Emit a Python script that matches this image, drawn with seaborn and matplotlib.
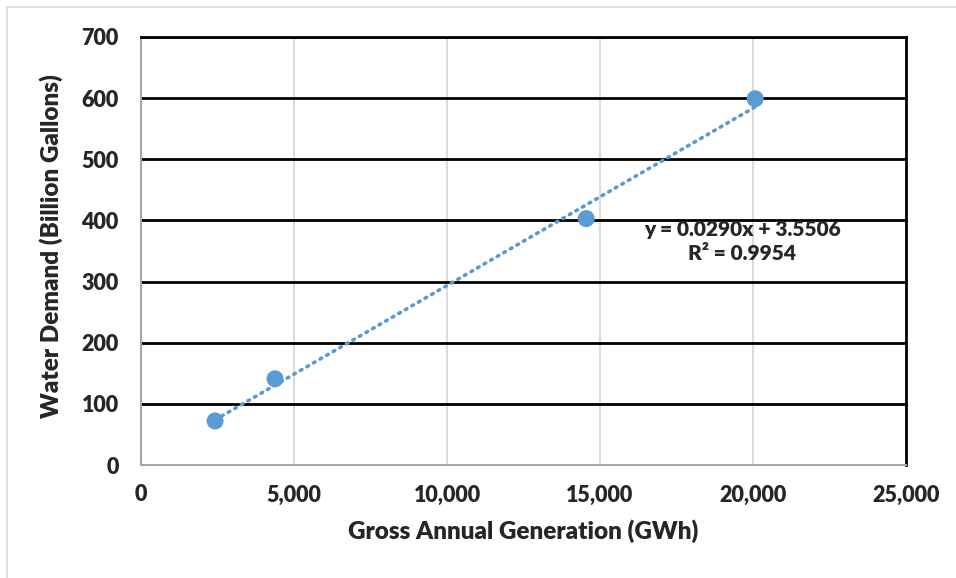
import numpy as np
import pandas as pd
import matplotlib
matplotlib.use("Agg")
import matplotlib.pyplot as plt
from matplotlib.lines import Line2D
from matplotlib.ticker import FuncFormatter
import seaborn as sns

# Data
generation_gwh = [2420, 4380, 14550, 20070]
water_demand = [72, 141, 403, 599]
slope = 0.0290
intercept = 3.5506
r_squared = 0.9954
x_ticks = [0, 5000, 10000, 15000, 20000, 25000]
y_ticks = [0, 100, 200, 300, 400, 500, 600, 700]

df = pd.DataFrame({"gen": generation_gwh, "water": water_demand})
trend_x = np.array([min(generation_gwh), max(generation_gwh)])
trend_df = pd.DataFrame({"gen": trend_x, "water": slope * trend_x + intercept})

sns.set_theme(style="white")
plt.rcParams["font.family"] = ["Lato", "DejaVu Sans"]
W = "heavy"

blue = "#5B9BD5"
fig = plt.figure(figsize=(9.56, 5.78), dpi=100)
ax = fig.add_axes([0.1475, 0.1955, 0.8002, 0.7405])

for xv in x_ticks[1:-1]:
    ax.axvline(xv, color="#D9D9D9", lw=1.3, zorder=0)
for yv in y_ticks[1:]:
    ax.axhline(yv, color="black", lw=2.0, zorder=0.5)

sns.lineplot(data=trend_df, x="gen", y="water", ax=ax, color=blue,
             lw=2.6, linestyle=(0, (0.5, 1.6)), dash_capstyle="round", zorder=2)
sns.scatterplot(data=df, x="gen", y="water", ax=ax, color=blue, s=150,
                edgecolor="none", zorder=3)

ax.set_xlim(0, 25000)
ax.set_ylim(0, 700)
ax.set_xticks(x_ticks)
ax.set_yticks(y_ticks)
ax.xaxis.set_major_formatter(FuncFormatter(lambda v, p: f"{int(v):,}"))
ax.tick_params(axis="both", labelsize=15.5, length=0)
ax.tick_params(axis="x", pad=14)
ax.tick_params(axis="y", pad=16)
for lab in ax.get_xticklabels() + ax.get_yticklabels():
    lab.set_fontweight(W)

for side in ["left", "bottom"]:
    ax.spines[side].set_color("#A6A6A6")
    ax.spines[side].set_linewidth(1.5)
for side in ["right", "top"]:
    ax.spines[side].set_color("black")
    ax.spines[side].set_linewidth(2.0)

ax.set_xlabel("Gross Annual Generation (GWh)", fontsize=17.5, fontweight=W, labelpad=10)
ax.set_ylabel("Water Demand (Billion Gallons)", fontsize=17.5, fontweight=W,
              ha="center", va="center", rotation_mode="default")
ax.yaxis.set_label_coords(-0.1176, 0.512)

ax.text(19640, 365, f"y = {slope:.4f}x + {intercept:.4f}\nR² = {r_squared:.4f}",
        ha="center", va="center", fontsize=15, fontweight=W, linespacing=1.3, zorder=4)

fig.add_artist(Line2D([7/956, 7/956], [0, 1 - 7/578], transform=fig.transFigure,
                      color="#D9D9D9", lw=1.2))
fig.add_artist(Line2D([7/956, 1], [1 - 7/578, 1 - 7/578], transform=fig.transFigure,
                      color="#D9D9D9", lw=1.2))

fig.savefig("out.png", dpi=100)
